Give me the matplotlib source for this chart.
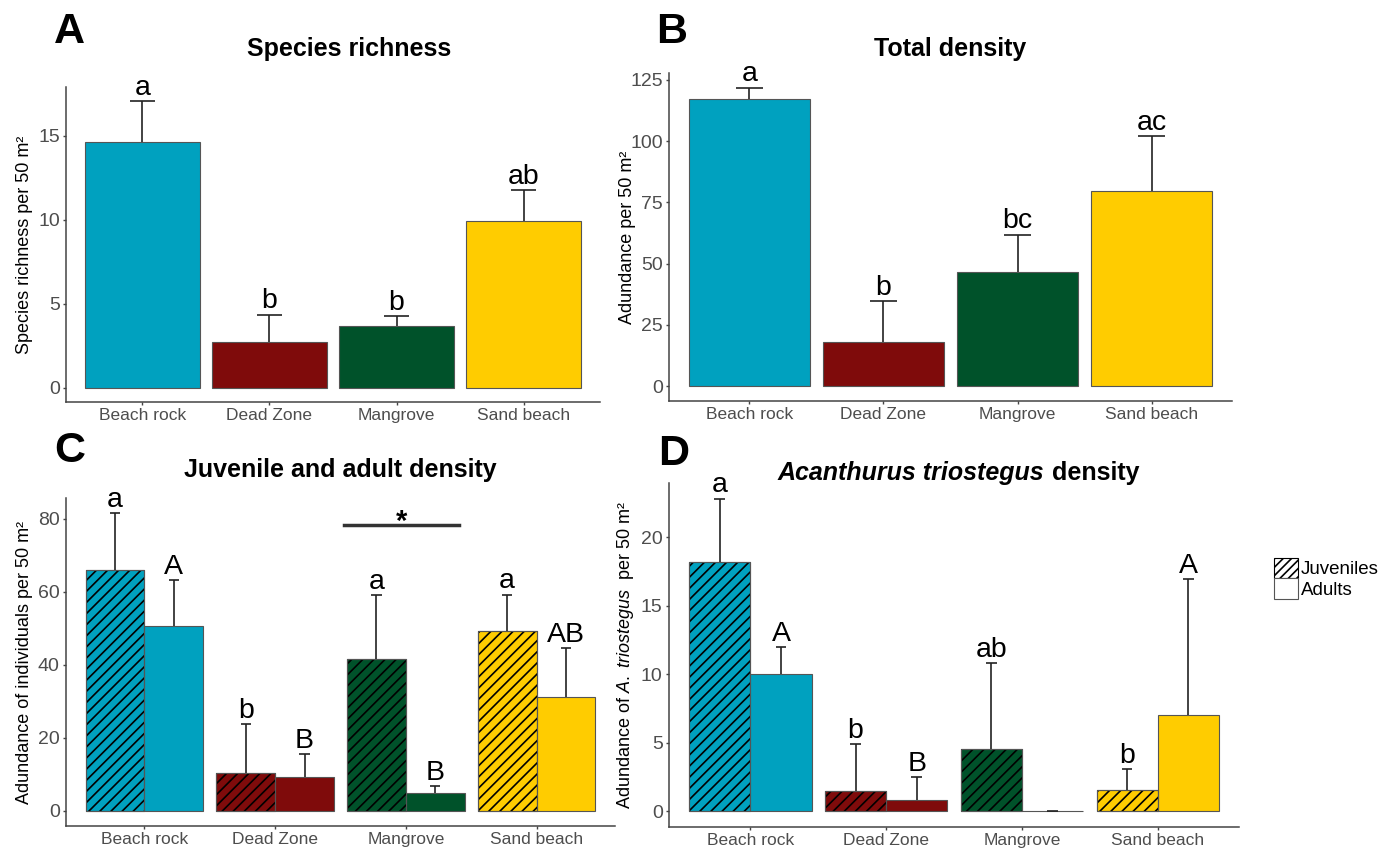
import matplotlib
matplotlib.use('Agg')
import matplotlib.pyplot as plt
from matplotlib.patches import Patch
import numpy as np

plt.rcParams['font.family'] = 'Liberation Sans'
plt.rcParams['mathtext.fontset'] = 'custom'
plt.rcParams['mathtext.rm'] = 'Liberation Sans'
plt.rcParams['mathtext.it'] = 'Liberation Sans:italic'
plt.rcParams['hatch.linewidth'] = 1.2

sites = ['Beach rock', 'Dead Zone', 'Mangrove', 'Sand beach']
colors = ['#00A1BF', '#7F0B0B', '#00522A', '#FFCC00']

# A - species richness
rich_mean = [14.6, 2.7, 3.65, 9.9]
rich_se = [2.45, 1.65, 0.6, 1.85]
rich_lab = ['a', 'b', 'b', 'ab']

# B - total density
dens_mean = [117.0, 18.0, 46.4, 79.5]
dens_se = [4.8, 16.8, 15.4, 22.5]
dens_lab = ['a', 'b', 'bc', 'ac']

# C - juveniles / adults
juv_mean = [65.9, 10.3, 41.5, 49.2]
juv_se = [15.6, 13.4, 17.6, 10.0]
juv_lab = ['a', 'b', 'a', 'a']
adu_mean = [50.7, 9.2, 4.75, 31.1]
adu_se = [12.4, 6.3, 2.05, 13.4]
adu_lab = ['A', 'B', 'B', 'AB']

# D - Acanthurus triostegus
at_juv_mean = [18.2, 1.5, 4.55, 1.55]
at_juv_se = [4.6, 3.4, 6.25, 1.52]
at_juv_lab = ['a', 'b', 'ab', 'b']
at_adu_mean = [10.05, 0.8, 0.0, 7.05]
at_adu_se = [1.95, 1.7, 0.0, 9.9]
at_adu_lab = ['A', 'B', '', 'A']

W, H = 1387, 849
fig = plt.figure(figsize=(W / 100, H / 100), dpi=100)


def px_axes(l, t, r, b):
    ax = fig.add_axes([l / W, 1 - b / H, (r - l) / W, (b - t) / H])
    ax.yaxis.set_label_coords(-33 / (r - l), 0.5)
    return ax


def style(ax, ylim, yticks, ylabel):
    ax.set_xlim(-0.6, 3.6)
    ax.set_ylim(*ylim)
    ax.set_yticks(yticks)
    ax.set_xticks(range(4))
    ax.set_xticklabels(sites, fontsize=12.5)
    ax.tick_params(axis='y', labelsize=14, pad=2)
    ax.tick_params(axis='x', pad=1.5)
    ax.tick_params(colors='#444444', labelcolor='#4d4d4d', length=2.5, width=1)
    for s in ['top', 'right']:
        ax.spines[s].set_visible(False)
    for s in ['left', 'bottom']:
        ax.spines[s].set_color('#444444')
        ax.spines[s].set_linewidth(1.1)
    ax.set_ylabel(ylabel, fontsize=13)


def bars(ax, x, mean, se, lab, w, hatch, capw):
    mean = np.array(mean)
    top = mean + np.array(se)
    ax.bar(x, mean, w, color=colors, edgecolor='#555555', lw=0.8, zorder=2)
    if hatch:
        ax.bar(x, mean, w, color='none', edgecolor='black', hatch='///', lw=0, zorder=3)
        ax.bar(x, mean, w, fill=False, edgecolor='#555555', lw=0.8, zorder=3)
    # upper error bar only
    ax.vlines(x, mean, top, color='#222222', lw=1.2, zorder=4)
    ax.hlines(top, x - capw, x + capw, color='#222222', lw=1.2, zorder=4)
    for xi, t, s in zip(x, top, lab):
        if s:
            ax.annotate(s, (xi, t), xytext=(0, 4.5), textcoords='offset points',
                        ha='center', va='baseline', fontsize=20.5)


x = np.arange(4)

axA = px_axes(66, 87, 600, 402)
bars(axA, x, rich_mean, rich_se, rich_lab, 0.9, False, 0.1)
style(axA, (-0.85, 17.9), [0, 5, 10, 15], 'Species richness per 50 m²')

axB = px_axes(669, 73, 1232, 401)
bars(axB, x, dens_mean, dens_se, dens_lab, 0.9, False, 0.1)
style(axB, (-6.1, 127.8), [0, 25, 50, 75, 100, 125], 'Adundance per 50 m²')

axC = px_axes(66, 498, 615, 826)
bars(axC, x - 0.225, juv_mean, juv_se, juv_lab, 0.45, True, 0.04)
bars(axC, x + 0.225, adu_mean, adu_se, adu_lab, 0.45, False, 0.04)
style(axC, (-4.2, 85.7), [0, 20, 40, 60, 80], 'Adundance of individuals per 50 m²')
axC.plot([1.53, 2.41], [78.2, 78.2], color='#333333', lw=2.5)
axC.text(1.97, 77.0, '*', ha='center', va='baseline', fontsize=21, fontweight='bold')

axD = px_axes(669, 483, 1239, 827)
bars(axD, x - 0.225, at_juv_mean, at_juv_se, at_juv_lab, 0.45, True, 0.04)
bars(axD, x + 0.225, at_adu_mean, at_adu_se, at_adu_lab, 0.45, False, 0.04)
style(axD, (-1.14, 23.94), [0, 5, 10, 15, 20],
      r'Adundance of $\it{A.\ triostegus}$  per 50 m²')

# titles
fig.text(349 / W, 1 - 56 / H, 'Species richness', ha='center', va='baseline',
         fontsize=18, fontweight='bold')
fig.text(950 / W, 1 - 56 / H, 'Total density', ha='center', va='baseline',
         fontsize=18, fontweight='bold')
fig.text(340 / W, 1 - 477 / H, 'Juvenile and adult density', ha='center', va='baseline',
         fontsize=18, fontweight='bold')
t1 = fig.text(778 / W, 1 - 480 / H, 'Acanthurus triostegus', ha='left', va='baseline',
              fontsize=18, fontweight='bold', fontstyle='italic')
axD.annotate(' density', xy=(1, 0), xycoords=t1, ha='left', va='bottom',
             fontsize=18, fontweight='bold', annotation_clip=False)

# panel letters
for lx, ly, letter in [(54, 43, 'A'), (656, 43, 'B'), (54, 462, 'C'), (658, 465, 'D')]:
    fig.text(lx / W, 1 - ly / H, letter, ha='left', va='baseline', fontsize=31, fontweight='bold')

handles = [Patch(facecolor='white', edgecolor='black', hatch='////', lw=0.8),
           Patch(facecolor='white', edgecolor='#555555', lw=0.8)]
fig.legend(handles, ['Juveniles', 'Adults'], loc='upper left',
           bbox_to_anchor=(1274 / W, 1 - 558 / H), frameon=False, fontsize=13.5,
           handlelength=1.28, handleheight=1.28, handletextpad=0.15,
           labelspacing=0.0, borderpad=0, borderaxespad=0)

fig.savefig('out.png', dpi=100)
